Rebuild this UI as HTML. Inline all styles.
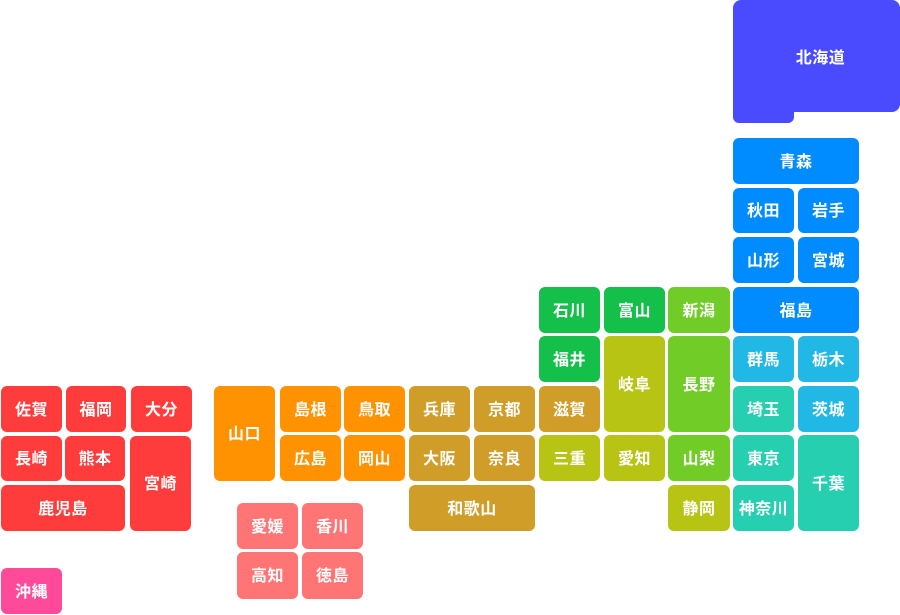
<!DOCTYPE html>
<html><head><meta charset="utf-8"><style>
body{margin:0;width:900px;height:615px;background:#fff;position:relative;overflow:hidden;font-family:"Liberation Sans","Noto Sans CJK JP",sans-serif}
.t{position:absolute;border-radius:6px;color:#fff;font-weight:bold;font-size:16px;display:flex;align-items:center;justify-content:center;letter-spacing:0.5px;box-sizing:border-box;padding-bottom:3px}
.hk{background:#4a4bff}.th{background:#008cff}.kb{background:#22b8e6}.kt{background:#26cfb0}
.g{background:#14c04a}.lg{background:#72cc28}.ol{background:#b8c414}.kn{background:#cf9d28}
.cg{background:#ff9200}.sk{background:#ff7474}.ky{background:#ff3c3c}.ok{background:#ff4a9a}
</style></head><body>
<div class="t hk" style="left:733px;top:0;width:167px;height:112px;border-radius:8px;padding-left:8px;padding-bottom:0">北海道</div>
<div class="t hk" style="left:733px;top:100px;width:61px;height:23px;border-radius:0 0 6px 6px"></div>
<div class="t th" style="left:733px;top:138px;width:126px;height:46px">青森</div>
<div class="t th" style="left:733px;top:188px;width:61px;height:45px">秋田</div>
<div class="t th" style="left:798px;top:188px;width:61px;height:45px">岩手</div>
<div class="t th" style="left:733px;top:237px;width:61px;height:46px">山形</div>
<div class="t th" style="left:798px;top:237px;width:61px;height:46px">宮城</div>
<div class="t th" style="left:733px;top:287px;width:126px;height:46px">福島</div>
<div class="t kb" style="left:733px;top:336px;width:61px;height:46px">群馬</div>
<div class="t kb" style="left:798px;top:336px;width:61px;height:46px">栃木</div>
<div class="t kt" style="left:733px;top:386px;width:61px;height:46px">埼玉</div>
<div class="t kb" style="left:798px;top:386px;width:61px;height:46px">茨城</div>
<div class="t kt" style="left:733px;top:435px;width:61px;height:46px">東京</div>
<div class="t kt" style="left:798px;top:435px;width:61px;height:96px">千葉</div>
<div class="t kt" style="left:733px;top:485px;width:61px;height:46px">神奈川</div>
<div class="t g" style="left:539px;top:287px;width:61px;height:46px">石川</div>
<div class="t g" style="left:604px;top:287px;width:61px;height:46px">富山</div>
<div class="t lg" style="left:668px;top:287px;width:62px;height:46px">新潟</div>
<div class="t g" style="left:539px;top:336px;width:61px;height:46px">福井</div>
<div class="t ol" style="left:604px;top:336px;width:61px;height:96px">岐阜</div>
<div class="t lg" style="left:668px;top:336px;width:62px;height:96px">長野</div>
<div class="t kn" style="left:539px;top:386px;width:61px;height:46px">滋賀</div>
<div class="t ol" style="left:539px;top:435px;width:61px;height:46px">三重</div>
<div class="t ol" style="left:604px;top:435px;width:61px;height:46px">愛知</div>
<div class="t lg" style="left:668px;top:435px;width:62px;height:46px">山梨</div>
<div class="t ol" style="left:668px;top:485px;width:62px;height:46px">静岡</div>
<div class="t kn" style="left:409px;top:386px;width:61px;height:46px">兵庫</div>
<div class="t kn" style="left:474px;top:386px;width:61px;height:46px">京都</div>
<div class="t kn" style="left:409px;top:435px;width:61px;height:46px">大阪</div>
<div class="t kn" style="left:474px;top:435px;width:61px;height:46px">奈良</div>
<div class="t kn" style="left:409px;top:485px;width:126px;height:46px">和歌山</div>
<div class="t cg" style="left:214px;top:386px;width:61px;height:95px">山口</div>
<div class="t cg" style="left:280px;top:386px;width:61px;height:46px">島根</div>
<div class="t cg" style="left:344px;top:386px;width:61px;height:46px">鳥取</div>
<div class="t cg" style="left:280px;top:435px;width:61px;height:46px">広島</div>
<div class="t cg" style="left:344px;top:435px;width:61px;height:46px">岡山</div>
<div class="t sk" style="left:237px;top:503px;width:61px;height:46px">愛媛</div>
<div class="t sk" style="left:302px;top:503px;width:61px;height:46px">香川</div>
<div class="t sk" style="left:237px;top:552px;width:61px;height:47px">高知</div>
<div class="t sk" style="left:302px;top:552px;width:61px;height:47px">徳島</div>
<div class="t ky" style="left:1px;top:386px;width:61px;height:46px">佐賀</div>
<div class="t ky" style="left:66px;top:386px;width:60px;height:46px">福岡</div>
<div class="t ky" style="left:131px;top:386px;width:61px;height:46px">大分</div>
<div class="t ky" style="left:1px;top:436px;width:61px;height:45px">長崎</div>
<div class="t ky" style="left:65px;top:436px;width:60px;height:45px">熊本</div>
<div class="t ky" style="left:130px;top:436px;width:61px;height:95px">宮崎</div>
<div class="t ky" style="left:1px;top:485px;width:124px;height:46px">鹿児島</div>
<div class="t ok" style="left:1px;top:568px;width:61px;height:46px">沖縄</div>
</body></html>
